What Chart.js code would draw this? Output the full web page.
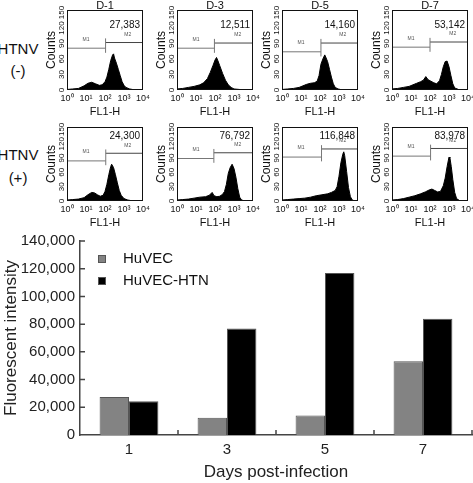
<!DOCTYPE html>
<html>
<head>
<meta charset="utf-8">
<script src="https://cdn.jsdelivr.net/npm/chart.js@4.4.1/dist/chart.umd.min.js"></script>
<style>
  body { margin: 0; background: #fff; }
  #wrap { position: relative; width: 473px; height: 483px; overflow: hidden; }
  canvas { position: absolute; }
  .rowlab { position: absolute; transform: translate(-50%, -50%); font: 15px 'Liberation Sans', Arial, sans-serif; color: #111; white-space: nowrap; }
</style>
</head>
<body>
<div id="wrap">
  <div class="rowlab" style="left:18px;top:48px">HTNV</div>
  <div class="rowlab" style="left:18px;top:70px">(-)</div>
  <div class="rowlab" style="left:18px;top:154px">HTNV</div>
  <div class="rowlab" style="left:18px;top:177px">(+)</div>
</div>
<script>
"use strict";

// bar chart values (mean fluorescence, same numbers as in the histogram panels)
const days = ["1", "3", "5", "7"];
const panelTitles = ["D-1", "D-3", "D-5", "D-7"];
const huvec = [27383, 12511, 14160, 53142];
const huvecHtn = [24300, 76792, 116848, 83978];

// histogram axes
const histXTicks = ["10\u2070", "10\u00b9", "10\u00b2", "10\u00b3", "10\u2074"];
const histYTicks = [0, 30, 60, 90, 120, 150];

// histograms, pairs of [log10 FL1-H, counts]
const negD1 = [[0,1],[0.3,2],[0.6,3],[0.9,8],[1.1,13],[1.3,15],[1.5,12],[1.7,9],[1.85,10],[2.0,16],[2.1,25],[2.2,40],[2.3,57],[2.4,68],[2.45,70],[2.5,62],[2.6,52],[2.7,40],[2.8,28],[2.9,16],[3.0,9],[3.1,5],[3.3,2],[3.6,0],[4,0]];
const negD3 = [[0,2],[0.3,3],[0.6,5],[0.9,7],[1.2,10],[1.4,14],[1.6,22],[1.75,34],[1.9,48],[2.0,58],[2.08,63],[2.15,57],[2.25,47],[2.4,32],[2.55,19],[2.7,10],[2.85,5],[3.0,2],[3.3,1],[3.6,0],[4,0]];
const negD5 = [[0,1],[0.3,2],[0.6,3],[0.9,5],[1.1,8],[1.3,11],[1.5,13],[1.7,14],[1.85,17],[1.95,28],[2.05,50],[2.15,60],[2.25,68],[2.3,64],[2.4,55],[2.5,40],[2.6,25],[2.7,12],[2.8,5],[2.95,2],[3.2,0],[4,0]];
const negD7 = [[0,2],[0.3,3],[0.6,5],[0.9,7],[1.1,10],[1.3,13],[1.5,16],[1.65,19],[1.78,26],[1.9,20],[2.05,17],[2.2,14],[2.35,12],[2.5,18],[2.6,30],[2.7,45],[2.8,55],[2.9,56],[3.0,45],[3.1,28],[3.2,12],[3.3,4],[3.5,1],[4,0]];
const posD1 = [[0,2],[0.3,3],[0.6,4],[0.9,7],[1.1,13],[1.3,18],[1.45,17],[1.6,13],[1.75,10],[1.9,12],[2.0,20],[2.1,35],[2.2,55],[2.3,72],[2.35,77],[2.45,70],[2.55,55],[2.65,38],[2.75,22],[2.85,12],[3.0,5],[3.2,2],[3.5,0],[4,0]];
const posD3 = [[0,2],[0.3,3],[0.6,4],[0.9,6],[1.2,8],[1.5,9],[1.7,12],[1.85,18],[1.95,11],[2.1,9],[2.25,10],[2.4,14],[2.5,20],[2.6,35],[2.7,58],[2.8,70],[2.9,77],[3.0,68],[3.1,50],[3.2,26],[3.3,8],[3.4,2],[3.6,0],[4,0]];
const posD5 = [[0,2],[0.3,3],[0.6,4],[0.9,5],[1.2,6],[1.5,8],[1.8,11],[2.1,13],[2.4,15],[2.6,18],[2.8,22],[2.9,30],[3.0,52],[3.1,80],[3.2,98],[3.25,103],[3.3,95],[3.4,62],[3.5,28],[3.6,9],[3.7,2],[3.85,0],[4,0]];
const posD7 = [[0,2],[0.3,3],[0.6,5],[0.9,8],[1.2,11],[1.5,15],[1.75,19],[1.95,23],[2.1,25],[2.25,22],[2.4,19],[2.55,20],[2.7,32],[2.8,48],[2.9,72],[3.0,92],[3.05,90],[3.12,72],[3.2,45],[3.3,18],[3.4,5],[3.55,1],[3.7,0],[4,0]];

// M1 / M2 gates: boundary (log10) and marker heights (counts)
const negGate = [2.03, 1.97, 2.05, 2.0];
const negM1 = [81, 81, 74, 83];
const negM2 = [92, 91, 91, 93];
const posGate = [2.04, 1.94, 2.08, 2.03];
const posM1 = [84, 89, 92, 94];
const posM2 = [100, 101, 109, 110];

const FONT = "'Liberation Sans', Arial, Helvetica, sans-serif";
Chart.defaults.font.family = FONT;
Chart.defaults.animation = false;

const wrap = document.getElementById("wrap");
function addCanvas(left, top, w, h) {
    const c = document.createElement("canvas");
    c.width = w; c.height = h;
    c.style.left = left + "px"; c.style.top = top + "px";
    c.style.width = w + "px"; c.style.height = h + "px";
    wrap.appendChild(c);
    return c;
}

// texts and frame of a histogram panel
const histText = {
    id: "histText",
    afterDraw(chart, args, opts) {
        const ctx = chart.ctx, a = chart.chartArea;
        const xs = chart.scales.x, ys = chart.scales.y;
        ctx.save();
        ctx.strokeStyle = "#111";
        ctx.lineWidth = 1;
        ctx.strokeRect(a.left + 0.5, a.top + 0.5, a.right - a.left - 1, a.bottom - a.top - 1);
        ctx.fillStyle = "#111";
        ctx.font = "8px " + FONT;
        ctx.textAlign = "center";
        ctx.textBaseline = "middle";
        histYTicks.forEach(function (v) {
            ctx.save();
            ctx.translate(a.left - 5, ys.getPixelForValue(v));
            ctx.rotate(-Math.PI / 2);
            ctx.fillText(String(v), 0, 0);
            ctx.restore();
        });
        if (opts.title) {
            ctx.font = "11px " + FONT;
            ctx.fillText(opts.title, (a.left + a.right) / 2, 5.5);
        }
        ctx.font = "10px " + FONT;
        ctx.textAlign = "right";
        ctx.fillText(opts.number.toLocaleString("en-US"), a.right - 3, a.top + opts.numDy);
        ctx.font = "5px " + FONT;
        ctx.textAlign = "center";
        ctx.fillStyle = "#555";
        ctx.fillText("M1", xs.getPixelForValue(1.0), ys.getPixelForValue(opts.m1) - 9);
        ctx.fillText("M2", xs.getPixelForValue(3.2), ys.getPixelForValue(opts.m2) - 8);
        ctx.restore();
    }
};

function histChart(canvas, pts, gate, m1, m2, title, number, numDy) {
    const hist = pts.map(p => ({ x: p[0], y: p[1] }));
    const m1Line = [{ x: 0, y: m1 }, { x: gate, y: m1 }, { x: gate, y: null }, { x: gate, y: m1 - 9 }, { x: gate, y: m2 + 8 }];
    const m2Line = [{ x: gate, y: m2 }, { x: 4, y: m2 }];
    return new Chart(canvas, {
        type: "line",
        data: {
            datasets: [
                { data: hist, fill: "origin", backgroundColor: "#000", borderColor: "#000", borderWidth: 1, pointRadius: 0, tension: 0 },
                { data: m1Line, borderColor: "#777", borderWidth: 1, pointRadius: 0, fill: false, spanGaps: false },
                { data: m2Line, borderColor: "#444", borderWidth: 1, pointRadius: 0, fill: false }
            ]
        },
        options: {
            responsive: false,
            layout: { padding: { top: 10, right: 10, left: 0, bottom: 0 } },
            plugins: {
                legend: { display: false },
                tooltip: { enabled: false },
                histText: { title: title, number: number, numDy: numDy, m1: m1, m2: m2 }
            },
            scales: {
                x: {
                    type: "linear", min: 0, max: 4,
                    afterFit(s) { s.height = 30; },
                    grid: { display: false, drawTicks: false },
                    border: { display: false },
                    ticks: { stepSize: 1, autoSkip: false, maxRotation: 0, padding: 3, font: { size: 9 }, color: "#111",
                        callback: v => histXTicks[v] },
                    title: { display: true, text: "FL1-H", font: { size: 11, lineHeight: 1 }, color: "#111", padding: { top: 0, bottom: 3 } }
                },
                y: {
                    min: 0, max: 155,
                    afterFit(s) { s.width = 36; },
                    grid: { display: false, drawTicks: false },
                    border: { display: false },
                    ticks: { display: false },
                    title: { display: true, text: "Counts", font: { size: 12, lineHeight: 1 }, color: "#111", padding: { top: 15, bottom: 0 } }
                }
            }
        },
        plugins: [histText]
    });
}

const boxLefts = [67, 177, 282, 392];
const negSets = [negD1, negD3, negD5, negD7];
const posSets = [posD1, posD3, posD5, posD7];
for (let i = 0; i < 4; i++) {
    histChart(addCanvas(boxLefts[i] - 36, 0, 122, 120), negSets[i], negGate[i], negM1[i], negM2[i], panelTitles[i], huvec[i], 15);
    histChart(addCanvas(boxLefts[i] - 36, 117, 122, 114), posSets[i], posGate[i], posM1[i], posM2[i], null, huvecHtn[i], 9);
}

// inward tick marks and legend for the bar chart
const barExtras = {
    id: "barExtras",
    afterDraw(chart) {
        const ctx = chart.ctx, a = chart.chartArea;
        const xs = chart.scales.x, ys = chart.scales.y;
        ctx.save();
        ctx.strokeStyle = "#444";
        ctx.lineWidth = 1.5;
        ctx.beginPath();
        ys.ticks.forEach(function (t) {
            if (t.value === 0) return;
            const y = ys.getPixelForValue(t.value);
            ctx.moveTo(a.left, y); ctx.lineTo(a.left + 5, y);
        });
        for (let i = 1; i <= chart.data.labels.length; i++) {
            const x = xs.getPixelForValue(i - 0.5);
            ctx.moveTo(x, a.bottom); ctx.lineTo(x, a.bottom - 5);
        }
        ctx.stroke();
        ctx.font = "15px " + FONT;
        ctx.textBaseline = "middle";
        ctx.textAlign = "left";
        chart.data.datasets.forEach(function (ds, k) {
            const y = a.top + 18 + k * 22;
            ctx.fillStyle = ds.backgroundColor;
            ctx.fillRect(a.left + 18, y - 4, 8, 8);
            ctx.strokeStyle = "#555";
            ctx.lineWidth = 1;
            ctx.strokeRect(a.left + 18.5, y - 3.5, 7, 7);
            ctx.fillStyle = "#111";
            ctx.fillText(ds.label, a.left + 43, y);
        });
        ctx.restore();
    }
};

new Chart(addCanvas(0, 226, 473, 257), {
    type: "bar",
    data: {
        labels: days,
        datasets: [
            { label: "HuVEC", data: huvec, backgroundColor: "#838383", borderColor: "#555", borderWidth: 1 },
            { label: "HuVEC-HTN", data: huvecHtn, backgroundColor: "#000", borderColor: "#555", borderWidth: 1 }
        ]
    },
    options: {
        responsive: false,
        layout: { padding: { top: 15, right: 1, left: 0, bottom: 0 } },
        datasets: { bar: { categoryPercentage: 0.6, barPercentage: 1 } },
        plugins: { legend: { display: false }, tooltip: { enabled: false } },
        scales: {
            x: {
                afterFit(s) { s.height = 48; },
                grid: { display: false, drawTicks: false },
                border: { display: true, color: "#444", width: 1.5 },
                ticks: { font: { size: 15 }, color: "#222", padding: 6 },
                title: { display: true, text: "Days post-infection", font: { size: 17, lineHeight: 1.2 }, color: "#222", padding: { top: 0, bottom: 0 } }
            },
            y: {
                min: 0, max: 140000,
                afterFit(s) { s.width = 80; },
                grid: { display: false, drawTicks: false },
                border: { display: true, color: "#444", width: 1.5 },
                ticks: { stepSize: 20000, font: { size: 15 }, color: "#222", padding: 5,
                    callback: v => v.toLocaleString("en-US") },
                title: { display: true, text: "Fluorescent intensity", font: { size: 17, lineHeight: 1.2 }, color: "#222", padding: { top: 1, bottom: 0 } }
            }
        }
    },
    plugins: [barExtras]
});
</script>
</body>
</html>
